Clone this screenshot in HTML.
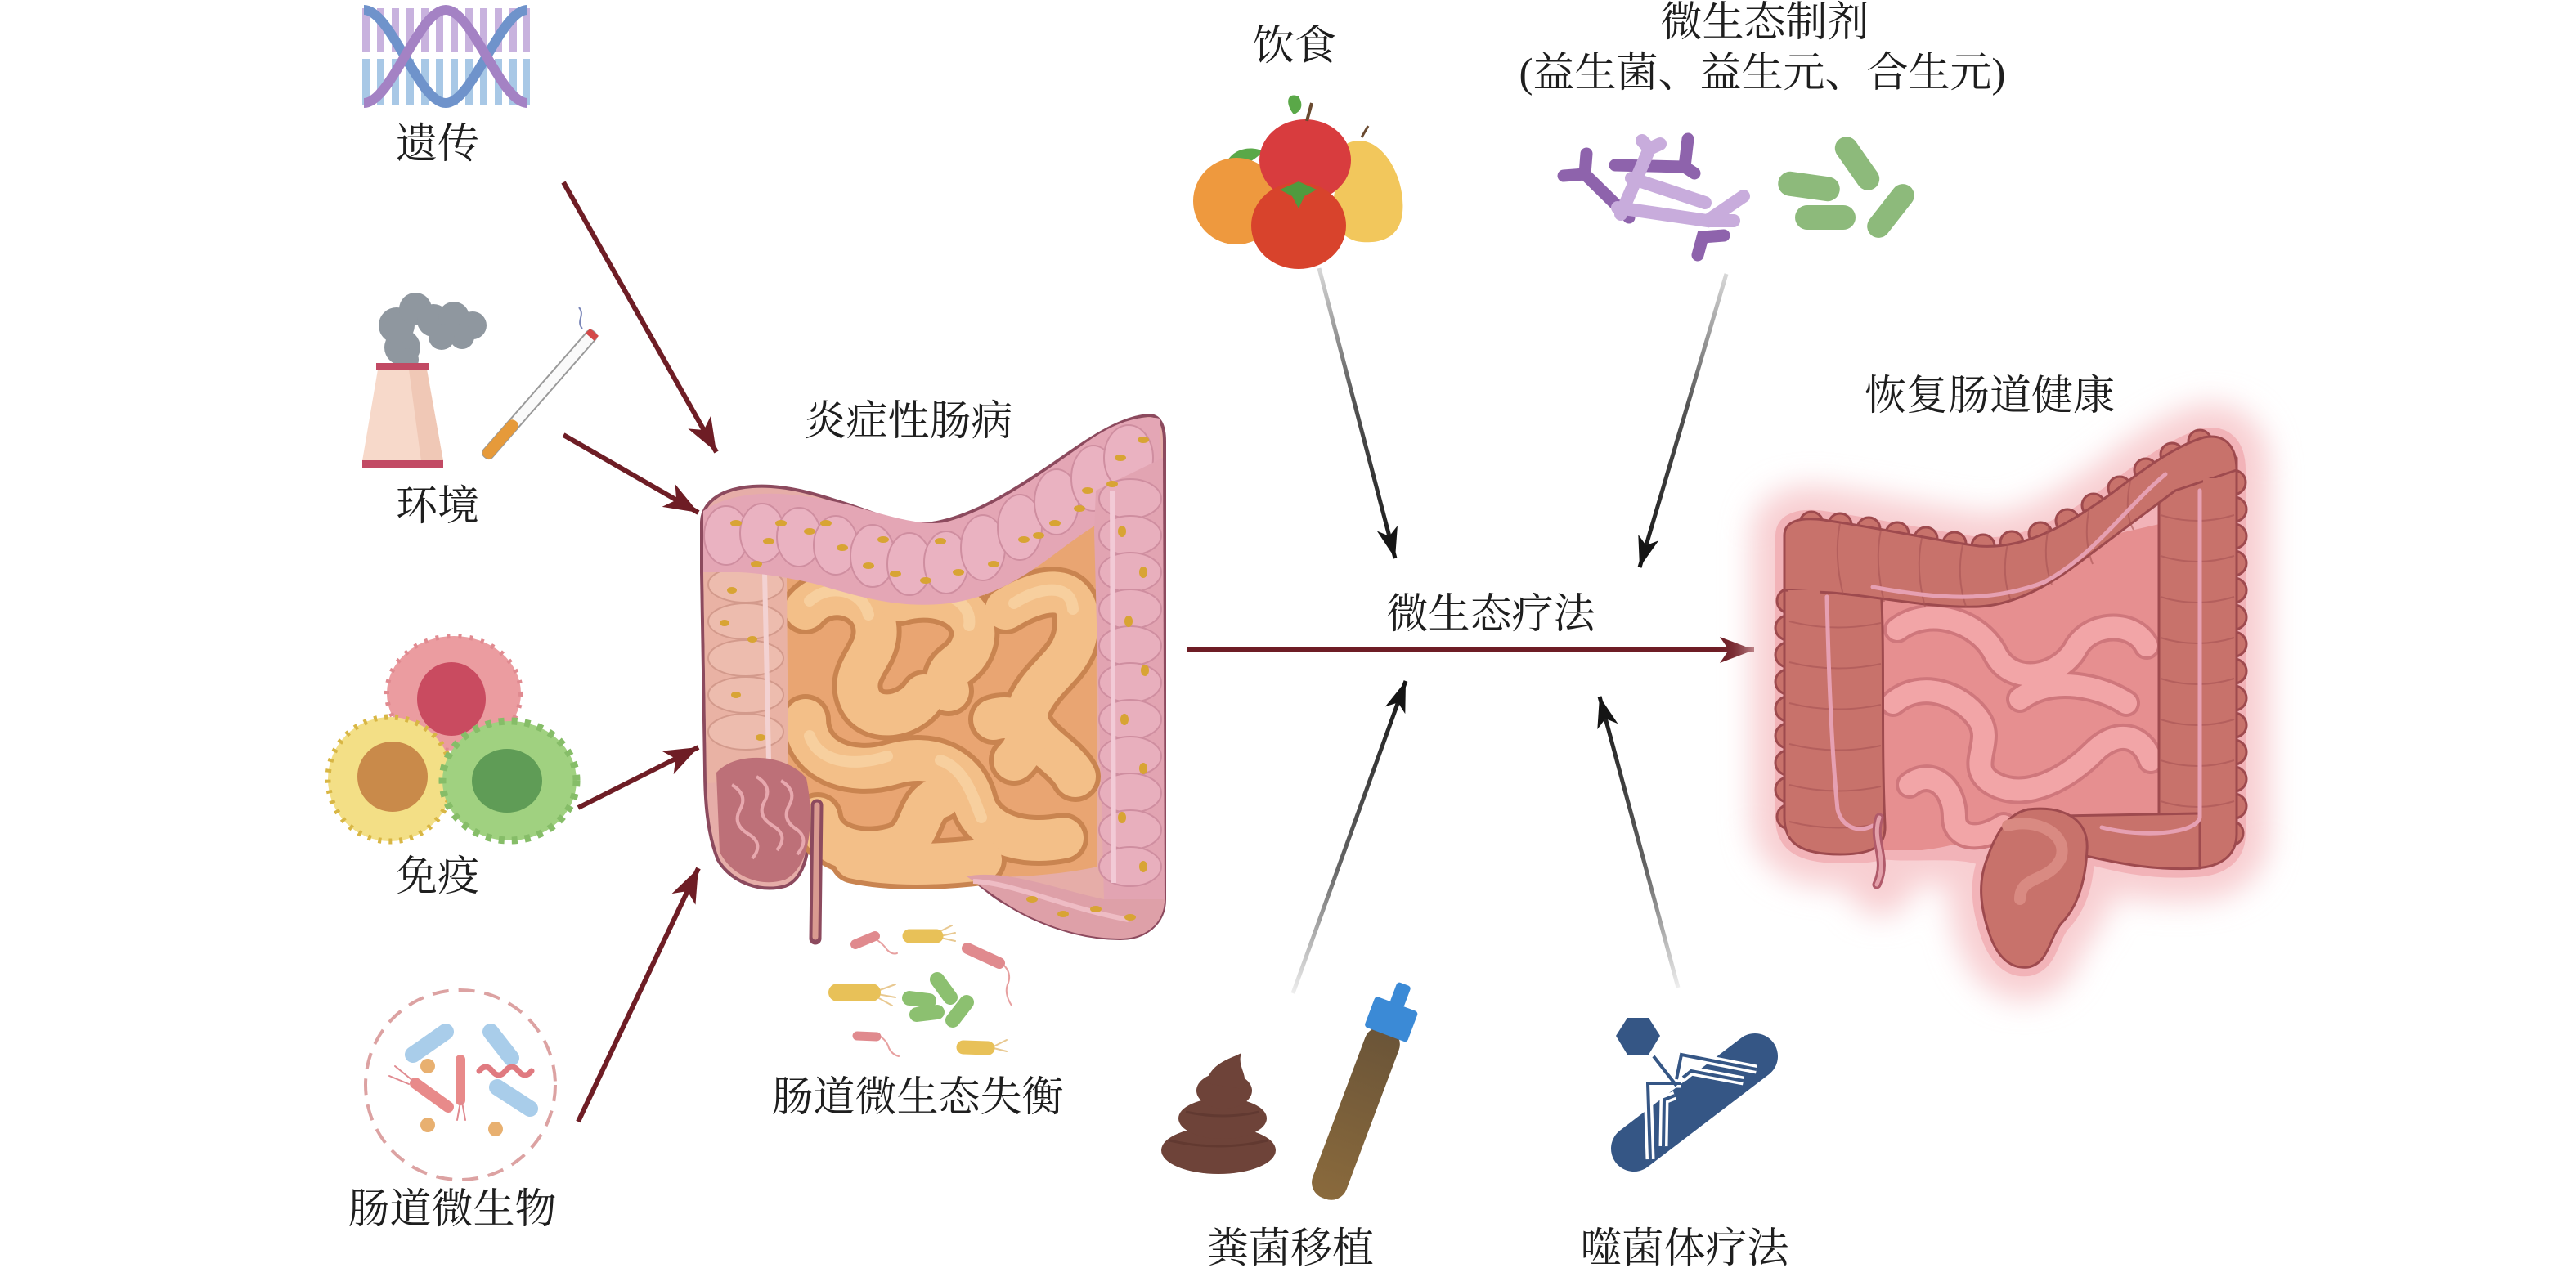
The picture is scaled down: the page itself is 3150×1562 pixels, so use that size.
<!DOCTYPE html>
<html><head><meta charset="utf-8">
<style>
html,body{margin:0;padding:0;background:#fff;}
svg{display:block;}
text{font-family:"Liberation Serif","Noto Serif CJK SC",serif;fill:#1e1e1e;}
</style></head>
<body>
<svg width="3150" height="1562" viewBox="0 0 3150 1562" xmlns="http://www.w3.org/2000/svg">
<defs>
<marker id="mh" viewBox="-42 -17 42 34" refX="0" refY="0" markerWidth="42" markerHeight="34" markerUnits="userSpaceOnUse" orient="auto">
<path d="M0,0 L-42,-16 L-31,0 L-42,16 Z" fill="#6e1d25"/></marker>
<marker id="bh" viewBox="-38 -14 38 28" refX="0" refY="0" markerWidth="38" markerHeight="28" markerUnits="userSpaceOnUse" orient="auto">
<path d="M0,0 L-38,-13 L-28,0 L-38,13 Z" fill="#151515"/></marker>
<linearGradient id="g1" gradientUnits="userSpaceOnUse" x1="1613" y1="328" x2="1706" y2="683"><stop offset="0" stop-color="#d8d8d8"/><stop offset="0.45" stop-color="#555"/><stop offset="1" stop-color="#151515"/></linearGradient>
<linearGradient id="g2" gradientUnits="userSpaceOnUse" x1="2111" y1="335" x2="2005" y2="694"><stop offset="0" stop-color="#d8d8d8"/><stop offset="0.45" stop-color="#555"/><stop offset="1" stop-color="#151515"/></linearGradient>
<linearGradient id="g3" gradientUnits="userSpaceOnUse" x1="1581" y1="1215" x2="1719" y2="833"><stop offset="0" stop-color="#eeeeee"/><stop offset="0.4" stop-color="#666"/><stop offset="1" stop-color="#151515"/></linearGradient>
<linearGradient id="g4" gradientUnits="userSpaceOnUse" x1="2052" y1="1208" x2="1956" y2="852"><stop offset="0" stop-color="#eeeeee"/><stop offset="0.4" stop-color="#666"/><stop offset="1" stop-color="#151515"/></linearGradient>
<linearGradient id="tubeg" x1="0" y1="0" x2="0" y2="1"><stop offset="0" stop-color="#6a5438"/><stop offset="1" stop-color="#8a6a3c"/></linearGradient>
<filter id="glow" x="-25%" y="-25%" width="150%" height="150%"><feGaussianBlur stdDeviation="18"/></filter>
</defs>

<!-- ============ DNA ============ -->
<g>
<g fill="#c8b2de">
<rect x="443" y="10" width="9" height="54"/><rect x="461" y="10" width="9" height="54"/><rect x="479" y="10" width="9" height="54"/><rect x="497" y="10" width="9" height="54"/><rect x="515" y="10" width="9" height="54"/><rect x="533" y="10" width="9" height="54"/><rect x="551" y="10" width="9" height="54"/><rect x="569" y="10" width="9" height="54"/><rect x="587" y="10" width="9" height="54"/><rect x="605" y="10" width="9" height="54"/><rect x="623" y="10" width="9" height="54"/><rect x="639" y="10" width="9" height="54"/>
</g>
<g fill="#a8c8e6">
<rect x="443" y="72" width="9" height="56"/><rect x="461" y="72" width="9" height="56"/><rect x="479" y="72" width="9" height="56"/><rect x="497" y="72" width="9" height="56"/><rect x="515" y="72" width="9" height="56"/><rect x="533" y="72" width="9" height="56"/><rect x="551" y="72" width="9" height="56"/><rect x="569" y="72" width="9" height="56"/><rect x="587" y="72" width="9" height="56"/><rect x="605" y="72" width="9" height="56"/><rect x="623" y="72" width="9" height="56"/><rect x="639" y="72" width="9" height="56"/>
</g>
<path d="M445,12 C478,12 512,126 545,126 C578,126 612,12 645,12" fill="none" stroke="#6f93cb" stroke-width="12"/>
<path d="M445,126 C478,126 512,12 545,12 C578,12 612,126 645,126" fill="none" stroke="#a482c4" stroke-width="12"/>
</g>
<text x="535" y="177" font-size="51" text-anchor="middle" dominant-baseline="central">遗传</text>

<!-- ============ Environment ============ -->
<g fill="#8f979f">
<circle cx="492" cy="425" r="22"/><circle cx="485" cy="398" r="22"/><circle cx="508" cy="378" r="20"/><circle cx="530" cy="392" r="20"/><circle cx="555" cy="388" r="19"/><circle cx="578" cy="398" r="17"/><circle cx="565" cy="412" r="15"/><circle cx="540" cy="412" r="16"/><circle cx="498" cy="440" r="14"/>
</g>
<polygon points="462,452 522,452 542,564 443,564" fill="#f7d9ca"/>
<polygon points="500,452 522,452 542,564 515,564" fill="#f0c8b6"/>
<rect x="460" y="444" width="64" height="9" fill="#c24a64"/>
<rect x="443" y="563" width="99" height="9" fill="#c24a64"/>
<g transform="translate(593,559) rotate(-48.8)">
<rect x="0" y="-7" width="203" height="14" rx="6" fill="#fafafa" stroke="#9a9a9a" stroke-width="2"/>
<rect x="0" y="-7" width="58" height="14" rx="6" fill="#e69a3a"/>
<rect x="195" y="-7" width="8" height="14" fill="#d44848"/>
</g>
<path d="M712,402 C704,392 716,386 708,376" fill="none" stroke="#7a86b8" stroke-width="2"/>
<text x="535" y="620" font-size="51" text-anchor="middle" dominant-baseline="central">环境</text>

<!-- ============ Immune cells ============ -->
<ellipse cx="555" cy="848" rx="82" ry="70" fill="#eb9ca0" stroke="#e08a90" stroke-width="6" stroke-dasharray="4 10"/>
<ellipse cx="552" cy="855" rx="42" ry="45" fill="#c94b60"/>
<circle cx="477" cy="953" r="76" fill="#f3df86" stroke="#d8b644" stroke-width="7" stroke-dasharray="4 9"/>
<circle cx="480" cy="950" r="43" fill="#c98a4a"/>
<ellipse cx="623" cy="955" rx="82" ry="73" fill="#a0d180" stroke="#86bd68" stroke-width="9" stroke-dasharray="7 9"/>
<ellipse cx="620" cy="955" rx="43" ry="39" fill="#5f9c56"/>
<text x="535" y="1073" font-size="51" text-anchor="middle" dominant-baseline="central">免疫</text>

<!-- ============ Gut microbes circle ============ -->
<circle cx="563" cy="1327" r="116" fill="none" stroke="#dca2a2" stroke-width="4" stroke-dasharray="20 12"/>
<g stroke-linecap="round" fill="none">
<line x1="505" y1="1290" x2="545" y2="1262" stroke="#a9cdea" stroke-width="20"/>
<line x1="600" y1="1262" x2="625" y2="1294" stroke="#a9cdea" stroke-width="20"/>
<line x1="608" y1="1330" x2="648" y2="1356" stroke="#a9cdea" stroke-width="20"/>
<line x1="508" y1="1325" x2="548" y2="1354" stroke="#e88a8a" stroke-width="14"/>
<line x1="563" y1="1296" x2="563" y2="1346" stroke="#e88a8a" stroke-width="12"/>
<path d="M586,1310 q8,-10 16,0 t16,0 t16,0 t16,0" stroke="#e07a80" stroke-width="7"/>
<path d="M505,1322 l-22,-18 M500,1326 l-24,-10" stroke="#e08a90" stroke-width="2"/>
<path d="M563,1348 l-4,22 M565,1348 l4,22" stroke="#e08a90" stroke-width="2"/>
</g>
<g fill="#e8b070"><circle cx="523" cy="1304" r="9"/><circle cx="523" cy="1376" r="9"/><circle cx="606" cy="1381" r="9"/></g>
<text x="553" y="1480" font-size="51" text-anchor="middle" dominant-baseline="central">肠道微生物</text>

<!-- ============ maroon arrows ============ -->
<g stroke="#6e1d25" stroke-width="6" marker-end="url(#mh)">
<line x1="689" y1="223" x2="876" y2="553"/>
<line x1="689" y1="532" x2="854" y2="627"/>
<line x1="707" y1="988" x2="854" y2="914"/>
<line x1="707" y1="1372" x2="854" y2="1062"/>
<line x1="1451" y1="795" x2="2145" y2="795"/>
</g>

<!-- ============ Left intestine (IBD) ============ -->
<text x="1111" y="516" font-size="51" text-anchor="middle" dominant-baseline="central">炎症性肠病</text>
<g>
<path d="M858,640 C858,615 880,598 920,595 C960,592 1000,605 1040,618 C1080,632 1110,645 1140,640 C1190,632 1240,600 1290,566 C1330,538 1370,510 1405,508 C1418,508 1424,520 1424,540 L1424,1100 C1424,1130 1400,1148 1370,1148 C1320,1148 1270,1130 1230,1105 C1210,1095 1200,1080 1180,1072 C1140,1078 1080,1082 1040,1074 C1020,1070 1012,1040 1012,990 L992,990 C990,1040 985,1075 960,1084 C930,1092 895,1080 878,1052 C865,1020 862,980 862,940 L858,700 Z" fill="#e6ada8" stroke="#8c4a5e" stroke-width="4"/>
<!-- small intestine base -->
<path d="M962,700 C1050,720 1150,745 1250,700 L1340,640 L1342,1060 C1300,1070 1230,1075 1180,1072 C1140,1078 1080,1082 1040,1074 C1020,1070 1012,1040 1010,990 L962,960 Z" fill="#e9a572"/>
<g fill="none" stroke-linecap="round" stroke="#c98450" stroke-width="62">
<path d="M985,745 C1010,715 1060,725 1070,760 C1080,800 1040,815 1050,850 C1060,885 1110,880 1130,850"/>
<path d="M1100,735 C1150,720 1200,745 1190,785 C1180,820 1150,810 1160,845"/>
<path d="M1230,745 C1270,720 1318,710 1318,760 C1318,810 1280,820 1260,860 C1240,900 1300,920 1315,950"/>
<path d="M985,880 C985,930 1040,950 1090,935 C1140,920 1180,940 1190,980 C1200,1020 1250,1035 1300,1025"/>
<path d="M1000,1000 C1005,1040 1060,1050 1100,1035 C1130,1020 1120,985 1150,975"/>
<path d="M1215,880 C1250,870 1270,900 1240,930"/>
<path d="M1045,1050 C1090,1060 1150,1058 1200,1052"/>
</g>
<g fill="none" stroke-linecap="round" stroke="#f3bf88" stroke-width="50">
<path d="M985,745 C1010,715 1060,725 1070,760 C1080,800 1040,815 1050,850 C1060,885 1110,880 1130,850"/>
<path d="M1100,735 C1150,720 1200,745 1190,785 C1180,820 1150,810 1160,845"/>
<path d="M1230,745 C1270,720 1318,710 1318,760 C1318,810 1280,820 1260,860 C1240,900 1300,920 1315,950"/>
<path d="M985,880 C985,930 1040,950 1090,935 C1140,920 1180,940 1190,980 C1200,1020 1250,1035 1300,1025"/>
<path d="M1000,1000 C1005,1040 1060,1050 1100,1035 C1130,1020 1120,985 1150,975"/>
<path d="M1215,880 C1250,870 1270,900 1240,930"/>
<path d="M1045,1050 C1090,1060 1150,1058 1200,1052"/>
</g>
<g fill="none" stroke-linecap="round" stroke="#f8d3a4" stroke-width="14" opacity="0.8">
<path d="M990,735 C1015,712 1055,722 1062,752"/>
<path d="M1110,728 C1150,716 1190,735 1185,765"/>
<path d="M1240,738 C1270,718 1310,712 1312,745"/>
<path d="M990,900 C1000,930 1040,940 1085,925"/>
<path d="M1150,930 C1180,940 1190,975 1200,1000"/>
</g>
<!-- ascending colon -->
<path d="M860,690 L962,700 L964,952 L864,958 Z" fill="#e9b2a4"/>
<g fill="#edbcae" stroke="#d39a8c" stroke-width="2">
<ellipse cx="912" cy="715" rx="46" ry="22"/><ellipse cx="912" cy="760" rx="46" ry="22"/><ellipse cx="912" cy="805" rx="46" ry="22"/><ellipse cx="912" cy="850" rx="46" ry="22"/><ellipse cx="912" cy="895" rx="46" ry="22"/>
</g>
<line x1="935" y1="700" x2="940" y2="930" stroke="#f3d2d2" stroke-width="6"/>
<!-- cecum cutaway -->
<path d="M876,945 C900,918 962,922 986,952 C996,1000 992,1060 960,1076 C930,1086 895,1072 880,1042 Z" fill="#bd7078"/>
<g fill="none" stroke="#e7a8ae" stroke-width="4">
<path d="M895,960 q20,12 10,30 q-10,18 10,30 q20,12 5,30"/>
<path d="M925,950 q20,12 10,30 q-10,18 10,30 q20,12 5,30"/>
<path d="M955,955 q20,12 10,30 q-10,18 10,30 q15,12 0,30"/>
</g>
<!-- transverse colon -->
<path d="M860,625 C900,598 960,598 1040,618 C1090,632 1130,645 1160,638 C1220,620 1280,575 1330,540 C1370,512 1400,508 1418,512 L1422,600 C1390,610 1340,640 1300,670 C1260,700 1220,730 1160,738 C1100,745 1050,730 1000,715 C960,705 920,700 900,700 L860,700 Z" fill="#e4a6b5"/>
<g fill="#eab2c1" stroke="#cf8ea0" stroke-width="2">
<ellipse cx="888" cy="655" rx="27" ry="36"/><ellipse cx="932" cy="652" rx="27" ry="36"/><ellipse cx="977" cy="657" rx="27" ry="36"/><ellipse cx="1022" cy="667" rx="27" ry="36"/><ellipse cx="1067" cy="680" rx="27" ry="38"/><ellipse cx="1112" cy="690" rx="27" ry="38"/><ellipse cx="1157" cy="688" rx="27" ry="38"/><ellipse cx="1202" cy="670" rx="27" ry="40"/><ellipse cx="1247" cy="645" rx="27" ry="40"/><ellipse cx="1292" cy="614" rx="27" ry="40"/><ellipse cx="1337" cy="585" rx="27" ry="40"/><ellipse cx="1380" cy="560" rx="30" ry="40"/>
</g>
<!-- descending colon -->
<path d="M1340,600 L1422,560 L1424,1105 C1400,1128 1370,1120 1350,1100 L1338,650 Z" fill="#e2a4b2"/>
<g fill="#e8afbd" stroke="#cf8ea0" stroke-width="2">
<ellipse cx="1382" cy="610" rx="38" ry="24"/><ellipse cx="1382" cy="655" rx="38" ry="24"/><ellipse cx="1382" cy="700" rx="38" ry="24"/><ellipse cx="1382" cy="745" rx="38" ry="24"/><ellipse cx="1382" cy="790" rx="38" ry="24"/><ellipse cx="1382" cy="835" rx="38" ry="24"/><ellipse cx="1382" cy="880" rx="38" ry="24"/><ellipse cx="1382" cy="925" rx="38" ry="24"/><ellipse cx="1382" cy="970" rx="38" ry="24"/><ellipse cx="1382" cy="1015" rx="38" ry="24"/><ellipse cx="1382" cy="1060" rx="38" ry="24"/>
</g>
<line x1="1360" y1="600" x2="1362" y2="1080" stroke="#f2cad6" stroke-width="6"/>
<!-- sigmoid -->
<path d="M1182,1072 C1230,1062 1300,1090 1350,1100 L1424,1100 C1424,1130 1400,1148 1370,1148 C1320,1148 1270,1130 1230,1105 Z" fill="#dea0a8"/>
<path d="M1190,1078 C1240,1080 1300,1110 1380,1125" fill="none" stroke="#eebcc4" stroke-width="6"/>
<!-- spots -->
<g fill="#d8a434">
<ellipse cx="900" cy="640" rx="7" ry="4"/><ellipse cx="940" cy="662" rx="7" ry="4"/><ellipse cx="990" cy="650" rx="7" ry="4"/><ellipse cx="1030" cy="670" rx="7" ry="4"/><ellipse cx="1062" cy="692" rx="7" ry="4"/><ellipse cx="1095" cy="702" rx="7" ry="4"/><ellipse cx="1132" cy="710" rx="7" ry="4"/><ellipse cx="1172" cy="700" rx="7" ry="4"/><ellipse cx="1215" cy="690" rx="7" ry="4"/><ellipse cx="1252" cy="660" rx="7" ry="4"/><ellipse cx="1290" cy="640" rx="7" ry="4"/><ellipse cx="1330" cy="600" rx="7" ry="4"/><ellipse cx="1370" cy="560" rx="7" ry="4"/><ellipse cx="1398" cy="538" rx="7" ry="4"/><ellipse cx="1360" cy="592" rx="7" ry="4"/><ellipse cx="1320" cy="622" rx="7" ry="4"/><ellipse cx="1270" cy="655" rx="7" ry="4"/><ellipse cx="1150" cy="662" rx="7" ry="4"/><ellipse cx="1080" cy="660" rx="7" ry="4"/><ellipse cx="1010" cy="640" rx="7" ry="4"/><ellipse cx="955" cy="640" rx="7" ry="4"/><ellipse cx="925" cy="690" rx="7" ry="4"/>
<ellipse cx="1372" cy="650" rx="5" ry="7"/><ellipse cx="1398" cy="700" rx="5" ry="7"/><ellipse cx="1380" cy="760" rx="5" ry="7"/><ellipse cx="1400" cy="820" rx="5" ry="7"/><ellipse cx="1375" cy="880" rx="5" ry="7"/><ellipse cx="1398" cy="940" rx="5" ry="7"/><ellipse cx="1372" cy="1000" rx="5" ry="7"/><ellipse cx="1398" cy="1060" rx="5" ry="7"/><ellipse cx="1340" cy="1112" rx="7" ry="4"/><ellipse cx="1300" cy="1118" rx="7" ry="4"/><ellipse cx="1262" cy="1100" rx="7" ry="4"/><ellipse cx="1382" cy="1122" rx="7" ry="4"/>
<ellipse cx="895" cy="722" rx="6" ry="4"/><ellipse cx="920" cy="782" rx="6" ry="4"/><ellipse cx="900" cy="850" rx="6" ry="4"/><ellipse cx="930" cy="902" rx="6" ry="4"/><ellipse cx="886" cy="762" rx="6" ry="4"/>
</g>
<!-- appendix -->
<line x1="999" y1="985" x2="997" y2="1148" stroke="#8c4a5e" stroke-width="15" stroke-linecap="round"/>
<line x1="999" y1="985" x2="997" y2="1146" stroke="#d99a90" stroke-width="7" stroke-linecap="round"/>
</g>

<!-- dysbiosis bacteria -->
<g stroke-linecap="round" fill="none">
<path d="M1073,1150 q8,6 12,12 q6,6 12,4" stroke="#e7a0a0" stroke-width="2"/>
<path d="M1150,1145 l18,-4 M1150,1147 l18,4 M1148,1140 l16,-8" stroke="#e8c890" stroke-width="2"/>
<path d="M1227,1180 q10,10 6,22 q-6,12 4,28" stroke="#e7a0a0" stroke-width="2"/>
<path d="M1073,1212 l22,-8 M1073,1216 l22,4 M1073,1220 l18,10" stroke="#e8c890" stroke-width="2"/>
<path d="M1077,1268 q8,6 10,14 q4,8 12,10" stroke="#e7a0a0" stroke-width="2"/>
<path d="M1215,1280 l16,-8 M1215,1282 l16,4" stroke="#e8c890" stroke-width="2"/>
<line x1="1046" y1="1155" x2="1070" y2="1145" stroke="#e08a8e" stroke-width="12"/>
<line x1="1112" y1="1145" x2="1145" y2="1145" stroke="#e8c158" stroke-width="17"/>
<line x1="1183" y1="1160" x2="1222" y2="1178" stroke="#e08a8e" stroke-width="14"/>
<line x1="1024" y1="1214" x2="1066" y2="1214" stroke="#e8c158" stroke-width="22"/>
<line x1="1112" y1="1221" x2="1136" y2="1224" stroke="#8cc070" stroke-width="18"/>
<line x1="1146" y1="1198" x2="1162" y2="1220" stroke="#8cc070" stroke-width="18"/>
<line x1="1121" y1="1241" x2="1146" y2="1238" stroke="#8cc070" stroke-width="18"/>
<line x1="1165" y1="1248" x2="1182" y2="1226" stroke="#8cc070" stroke-width="18"/>
<line x1="1048" y1="1267" x2="1072" y2="1268" stroke="#e08a8e" stroke-width="11"/>
<line x1="1178" y1="1281" x2="1208" y2="1282" stroke="#e8c158" stroke-width="17"/>
</g>
<text x="1122" y="1343" font-size="51" text-anchor="middle" dominant-baseline="central">肠道微生态失衡</text>

<!-- ============ Diet ============ -->
<text x="1583" y="57" font-size="51" text-anchor="middle" dominant-baseline="central">饮食</text>
<path d="M1497,205 C1505,180 1530,178 1545,185 C1530,200 1515,205 1497,205 Z" fill="#5aa848"/>
<circle cx="1512" cy="246" r="53" fill="#ee993e"/>
<path d="M1640,180 C1680,150 1720,210 1715,260 C1712,290 1690,298 1665,296 C1640,294 1625,270 1632,235 C1636,210 1630,195 1640,180 Z" fill="#f2c75c"/>
<path d="M1665,168 l8,-14" stroke="#6a4a30" stroke-width="3"/>
<ellipse cx="1596" cy="196" rx="56" ry="50" fill="#d83c3e"/>
<path d="M1598,148 l6,-22" stroke="#6a4a30" stroke-width="4"/>
<path d="M1582,140 C1570,125 1575,112 1588,118 C1594,128 1592,136 1582,140 Z" fill="#5aa848"/>
<ellipse cx="1588" cy="276" rx="58" ry="53" fill="#d8432c"/>
<path d="M1565,232 L1588,222 L1610,232 L1595,240 L1588,255 L1580,240 Z" fill="#4f9a3e"/>

<!-- ============ Probiotics ============ -->
<text x="2158" y="28" font-size="51" text-anchor="middle" dominant-baseline="central">微生态制剂</text>
<text x="2155" y="90" font-size="51" text-anchor="middle" dominant-baseline="central">(益生菌、益生元、合生元)</text>
<g stroke-linecap="round" fill="none">
<g stroke="#8e63ac" stroke-width="15">
<path d="M1912,215 L1938,213 L1992,266 M1938,213 L1940,188"/>
<path d="M1975,202 L2060,204 M2060,204 L2064,170 M2060,204 L2072,212"/>
<path d="M2076,312 L2082,290 L2108,288"/>
</g>
<g stroke="#c8acdc" stroke-width="16">
<path d="M1982,262 L2017,182 M2017,182 L2008,172 M2017,182 L2030,176"/>
<path d="M1978,254 L2088,270 L2132,240 M2088,270 L2120,270"/>
<path d="M1995,218 L2085,248"/>
</g>
</g>
<g fill="#8dba7b">
<rect x="2174" y="213" width="76" height="30" rx="15" transform="rotate(8 2212 228)"/>
<rect x="2234" y="186" width="74" height="28" rx="14" transform="rotate(55 2271 200)"/>
<rect x="2195" y="251" width="74" height="30" rx="15"/>
<rect x="2274" y="244" width="76" height="28" rx="14" transform="rotate(-52 2312 258)"/>
</g>

<!-- black arrows -->
<line x1="1613" y1="328" x2="1706" y2="683" stroke="url(#g1)" stroke-width="5" marker-end="url(#bh)"/>
<line x1="2111" y1="335" x2="2005" y2="694" stroke="url(#g2)" stroke-width="5" marker-end="url(#bh)"/>
<line x1="1581" y1="1215" x2="1719" y2="833" stroke="url(#g3)" stroke-width="5" marker-end="url(#bh)"/>
<line x1="2052" y1="1208" x2="1956" y2="852" stroke="url(#g4)" stroke-width="5" marker-end="url(#bh)"/>

<text x="1823" y="752" font-size="51" text-anchor="middle" dominant-baseline="central">微生态疗法</text>

<!-- ============ FMT ============ -->
<g fill="#6e4339">
<ellipse cx="1490" cy="1407" rx="70" ry="29"/>
<ellipse cx="1495" cy="1368" rx="54" ry="25"/>
<ellipse cx="1497" cy="1334" rx="34" ry="22"/>
<path d="M1475,1325 C1480,1300 1505,1295 1518,1288 C1512,1305 1528,1315 1520,1332 Z"/>
</g>
<g fill="none" stroke="#5a342c" stroke-width="3" opacity="0.6"><path d="M1430,1395 q60,14 120,0"/><path d="M1450,1360 q45,10 90,0"/></g>
<g transform="translate(1697,1258) rotate(20.6)">
<rect x="-22" y="0" width="44" height="222" rx="20" fill="url(#tubeg)"/>
<rect x="-28" y="-32" width="56" height="40" rx="4" fill="#3b8ad6"/>
<rect x="-9" y="-58" width="18" height="28" rx="4" fill="#3b8ad6"/>
</g>
<text x="1578" y="1528" font-size="51" text-anchor="middle" dominant-baseline="central">粪菌移植</text>

<!-- ============ Phage ============ -->
<line x1="1998" y1="1405" x2="2146" y2="1292" stroke="#355685" stroke-width="56" stroke-linecap="round"/>
<polygon points="1990,1245 2016,1245 2030,1267 2016,1290 1990,1290 1976,1267" fill="#355685"/>
<g fill="none" stroke-linejoin="miter">
<g stroke="#fff" stroke-width="11">
<path d="M2022,1292 L2050,1328"/>
<path d="M2055,1325 L2015,1325 L2018,1418"/><path d="M2048,1340 L2035,1345 L2034,1402"/>
<path d="M2050,1320 L2056,1290 L2148,1308"/><path d="M2058,1318 L2068,1310 L2132,1322"/>
</g>
<g stroke="#355685" stroke-width="4">
<path d="M2022,1292 L2050,1328"/>
<path d="M2055,1325 L2015,1325 L2018,1418"/><path d="M2048,1340 L2035,1345 L2034,1402"/>
<path d="M2050,1320 L2056,1290 L2148,1308"/><path d="M2058,1318 L2068,1310 L2132,1322"/>
</g>
</g>
<text x="2060" y="1528" font-size="51" text-anchor="middle" dominant-baseline="central">噬菌体疗法</text>

<!-- ============ Right intestine (healthy) ============ -->
<text x="2433" y="485" font-size="51" text-anchor="middle" dominant-baseline="central">恢复肠道健康</text>
<g filter="url(#glow)" fill="#f8cfd2" stroke="#f8cfd2" stroke-width="80" stroke-linejoin="round">
<path d="M2182,655 C2182,638 2200,632 2230,636 C2300,646 2360,660 2420,668 C2480,672 2530,640 2580,605 C2620,575 2660,545 2695,535 C2720,530 2735,545 2735,575 L2735,1020 C2735,1050 2710,1062 2680,1062 C2620,1066 2570,1050 2550,1045 C2550,1080 2540,1110 2520,1130 C2505,1150 2505,1178 2480,1183 C2455,1186 2440,1165 2432,1140 C2422,1110 2418,1080 2430,1050 C2400,1035 2340,1045 2300,1040 L2300,1080 C2300,1045 2270,1045 2250,1045 C2200,1045 2182,1030 2182,1000 Z"/>
</g>
<path d="M2182,655 C2182,638 2200,632 2230,636 C2300,646 2360,660 2420,668 C2480,672 2530,640 2580,605 C2620,575 2660,545 2695,535 C2720,530 2735,545 2735,575 L2735,1020 C2735,1050 2710,1062 2680,1062 C2620,1066 2570,1050 2550,1045 C2550,1080 2540,1110 2520,1130 C2505,1150 2505,1178 2480,1183 C2455,1186 2440,1165 2432,1140 C2422,1110 2418,1080 2430,1050 C2400,1035 2340,1045 2300,1040 C2290,1045 2270,1045 2250,1045 C2200,1045 2182,1030 2182,1000 Z" fill="#f2b3b8" stroke="#f2b3b8" stroke-width="22" stroke-linejoin="round"/>
<!-- small intestine -->
<path d="M2295,720 L2645,640 L2645,1010 C2600,1020 2560,1010 2520,1000 C2460,1010 2400,1035 2350,1040 L2295,1040 Z" fill="#e68f90"/>
<g fill="none" stroke-linecap="round">
<g stroke="#cf777c" stroke-width="34">
<path d="M2320,770 C2360,740 2420,760 2440,800 C2460,840 2520,830 2540,790 C2560,760 2610,760 2625,790"/>
<path d="M2315,860 C2350,830 2400,850 2420,880 C2440,910 2400,940 2440,960 C2480,980 2530,950 2560,920 C2590,890 2620,900 2630,930"/>
<path d="M2335,960 C2360,940 2390,960 2390,1000 C2390,1025 2420,1030 2450,1010"/>
<path d="M2470,855 C2510,825 2570,840 2600,860"/>
</g>
<g stroke="#f2a5a7" stroke-width="26">
<path d="M2320,770 C2360,740 2420,760 2440,800 C2460,840 2520,830 2540,790 C2560,760 2610,760 2625,790"/>
<path d="M2315,860 C2350,830 2400,850 2420,880 C2440,910 2400,940 2440,960 C2480,980 2530,950 2560,920 C2590,890 2620,900 2630,930"/>
<path d="M2335,960 C2360,940 2390,960 2390,1000 C2390,1025 2420,1030 2450,1010"/>
<path d="M2470,855 C2510,825 2570,840 2600,860"/>
</g>
</g>
<!-- scalloped bumps (haustra) -->
<g fill="#c8726b" stroke="#9e4a4e" stroke-width="3">
<circle cx="2188" cy="735" r="15"/><circle cx="2186" cy="768" r="15"/><circle cx="2186" cy="801" r="15"/><circle cx="2186" cy="834" r="15"/><circle cx="2186" cy="867" r="15"/><circle cx="2186" cy="900" r="15"/><circle cx="2186" cy="933" r="15"/><circle cx="2186" cy="966" r="15"/><circle cx="2188" cy="999" r="15"/>
<circle cx="2731" cy="590" r="15"/><circle cx="2732" cy="623" r="15"/><circle cx="2732" cy="656" r="15"/><circle cx="2732" cy="689" r="15"/><circle cx="2732" cy="722" r="15"/><circle cx="2732" cy="755" r="15"/><circle cx="2732" cy="788" r="15"/><circle cx="2732" cy="821" r="15"/><circle cx="2732" cy="854" r="15"/><circle cx="2732" cy="887" r="15"/><circle cx="2732" cy="920" r="15"/><circle cx="2732" cy="953" r="15"/><circle cx="2732" cy="986" r="15"/><circle cx="2728" cy="1019" r="15"/>
<circle cx="2215" cy="640" r="14"/><circle cx="2250" cy="642" r="14"/><circle cx="2285" cy="647" r="14"/><circle cx="2320" cy="653" r="14"/><circle cx="2355" cy="659" r="14"/><circle cx="2390" cy="665" r="14"/><circle cx="2425" cy="668" r="14"/><circle cx="2460" cy="664" r="14"/><circle cx="2495" cy="653" r="14"/><circle cx="2528" cy="637" r="14"/><circle cx="2560" cy="618" r="14"/><circle cx="2592" cy="597" r="14"/><circle cx="2624" cy="575" r="14"/><circle cx="2656" cy="556" r="14"/><circle cx="2690" cy="540" r="14"/>
</g>
<!-- colon pieces -->
<g fill="#c8726b" stroke="#9e4a4e" stroke-width="3" stroke-linejoin="round">
<path d="M2182,700 L2300,715 C2305,800 2300,900 2305,1010 C2306,1035 2290,1045 2250,1045 C2200,1045 2182,1030 2182,1000 Z"/>
<path d="M2640,590 L2735,560 L2735,1020 C2735,1050 2710,1062 2680,1062 C2650,1062 2640,1040 2640,1000 Z"/>
<path d="M2690,995 L2690,1062 C2620,1066 2570,1050 2540,1045 C2520,1055 2512,1025 2522,998 Z"/>
<path d="M2182,655 C2182,638 2200,632 2230,636 C2300,646 2360,660 2420,668 C2480,672 2530,640 2580,605 C2620,575 2660,545 2695,535 C2720,530 2735,545 2735,575 L2660,600 C2620,630 2580,660 2540,690 C2500,720 2460,740 2420,742 C2360,744 2300,730 2240,725 L2182,722 Z"/>
<path d="M2480,990 C2520,985 2555,1000 2552,1040 C2550,1080 2540,1110 2520,1130 C2505,1150 2505,1178 2480,1183 C2455,1186 2440,1165 2432,1140 C2422,1110 2418,1080 2430,1050 C2440,1020 2455,995 2480,990 Z"/>
</g>
<g fill="#c8726b">
<rect x="2186" y="722" width="40" height="300"/>
<rect x="2694" y="585" width="38" height="440"/>
</g>
<path d="M2455,1010 C2490,1000 2530,1020 2520,1050 C2505,1080 2470,1070 2470,1100" fill="none" stroke="#d98a82" stroke-width="14" stroke-linecap="round"/>
<g fill="none" stroke="#a85454" stroke-width="2" opacity="0.6">
<path d="M2188,760 q55,14 112,2"/><path d="M2188,810 q55,14 112,2"/><path d="M2188,860 q55,14 112,2"/><path d="M2188,910 q55,14 112,2"/><path d="M2188,960 q55,14 112,2"/><path d="M2188,1005 q55,14 112,2"/>
<path d="M2642,630 q45,14 90,0"/><path d="M2642,680 q45,14 90,0"/><path d="M2642,730 q45,14 90,0"/><path d="M2642,780 q45,14 90,0"/><path d="M2642,830 q45,14 90,0"/><path d="M2642,880 q45,14 90,0"/><path d="M2642,930 q45,14 90,0"/><path d="M2642,980 q45,14 90,0"/>
<path d="M2250,640 q-8,40 4,88"/><path d="M2300,648 q-8,40 4,88"/><path d="M2350,658 q-8,40 4,84"/><path d="M2400,666 q-8,40 4,76"/><path d="M2455,665 q-8,40 4,70"/><path d="M2505,645 q-8,40 4,70"/><path d="M2555,620 q-8,40 4,70"/><path d="M2605,588 q-8,40 4,60"/>
</g>
<g fill="none" stroke="#e6a0b2" stroke-width="5" stroke-linecap="round">
<path d="M2234,730 C2236,820 2240,920 2247,990 C2252,1010 2270,1020 2290,1010"/>
<path d="M2290,718 C2380,735 2440,735 2500,712 C2560,680 2600,620 2648,580"/>
<path d="M2690,600 L2690,1000 C2685,1020 2620,1025 2570,1012"/>
</g>
<path d="M2298,1000 C2288,1030 2310,1050 2295,1082" fill="none" stroke="#b05a6a" stroke-width="11" stroke-linecap="round"/>
<path d="M2298,1000 C2288,1030 2310,1050 2295,1082" fill="none" stroke="#e3a0aa" stroke-width="5" stroke-linecap="round"/>
</svg>
</body></html>
